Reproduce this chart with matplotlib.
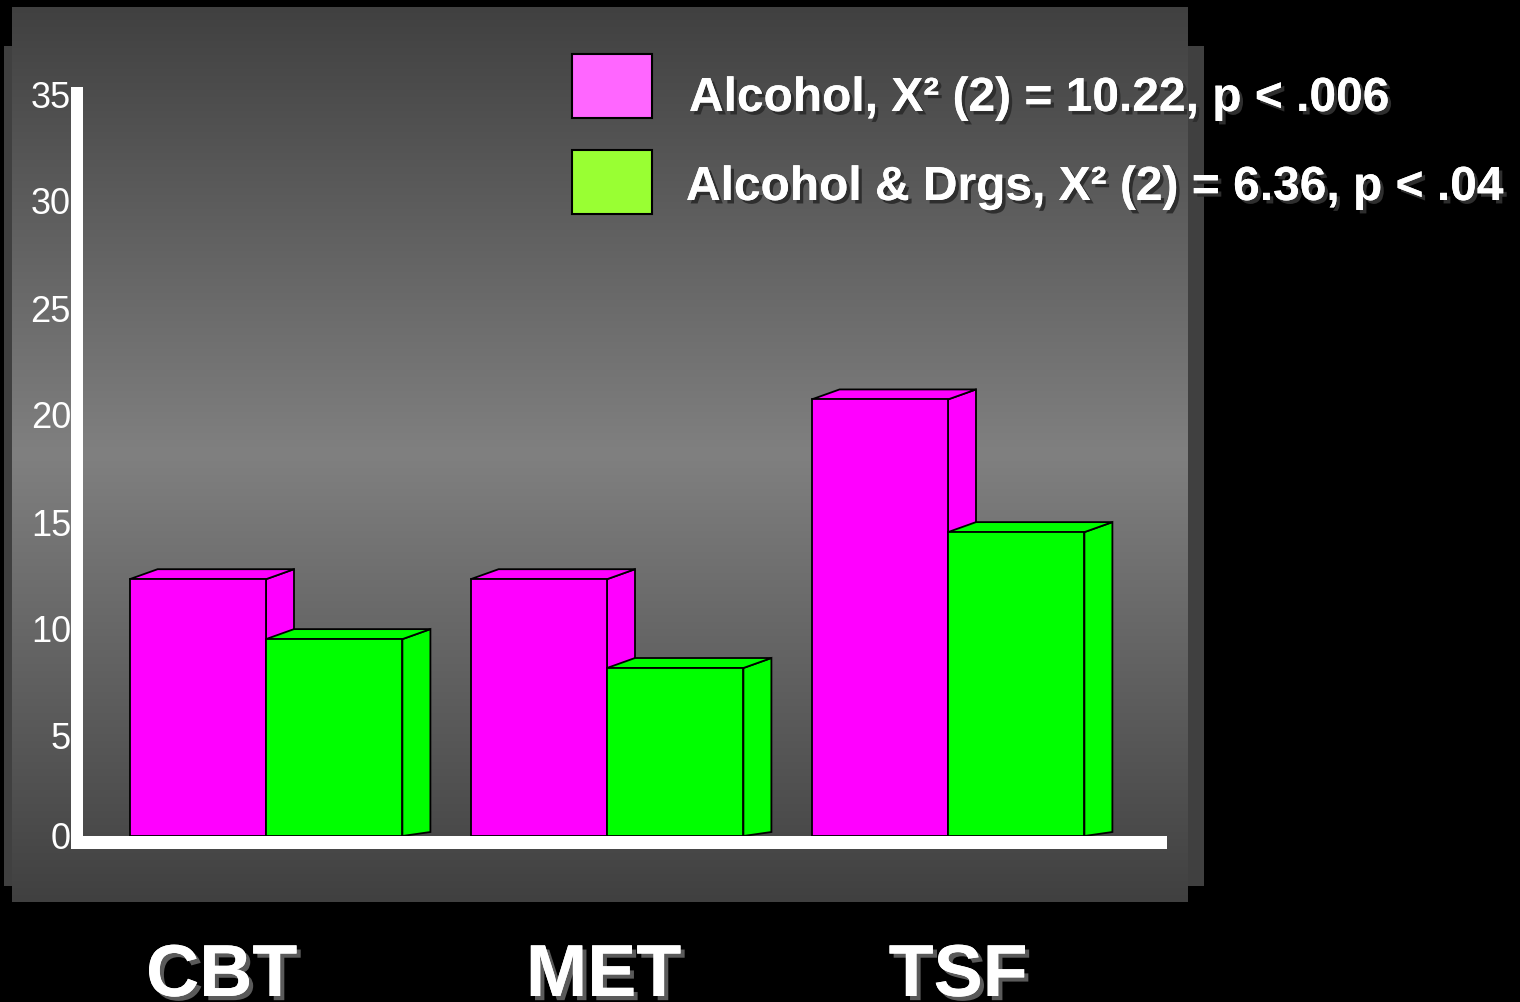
import numpy as np
import matplotlib
matplotlib.use("Agg")
import matplotlib.pyplot as plt
from matplotlib.patches import Polygon, Rectangle
from matplotlib import patheffects as pe
from matplotlib.transforms import offset_copy, blended_transform_factory

# ---- data -------------------------------------------------------------
categories = ["CBT", "MET", "TSF"]
alcohol = [12.0, 12.0, 20.4]
alcohol_drugs = [9.2, 7.85, 14.2]
y_ticks = [0, 5, 10, 15, 20, 25, 30, 35]
legend_labels = ["Alcohol, X² (2) = 10.22, p < .006",
                 "Alcohol & Drgs, X² (2) = 6.36, p < .04"]

# ---- layout / style ---------------------------------------------------
W, H, DPI = 1520, 1003, 100
FONT = "Liberation Sans"
PINK, GREEN = "#FF00FF", "#00FF00"
PINK_KEY, GREEN_KEY = "#FF66FF", "#99FF33"
GROUP_PX = 341.0          # pixels per category unit
BAR_W = 0.4               # bar width in category units
DEPTH_X_PX, DEPTH_TOP_PX, DEPTH_BASE_PX = 28, 10, 4
label_x = [-0.13, 0.99, 2.03]   # category label centres (category units)

plt.rcParams["font.family"] = [FONT, "DejaVu Sans"]

fig = plt.figure(figsize=(W / DPI, H / DPI), dpi=DPI, facecolor="black")


def fx(x):
    return x / W


def fy(y):
    return 1 - y / H


# ---- background panel -------------------------------------------------
fig.add_artist(Rectangle((fx(4), fy(887)), (1204 - 4) / W, (887 - 47) / H,
                         transform=fig.transFigure, facecolor="#404040",
                         edgecolor="none", zorder=0))

bg = fig.add_axes([fx(12), fy(903), (1188 - 12) / W, (903 - 8) / H])
bg.set_zorder(1)
rows = np.arange(8, 903)
centre = 455.0
level = 64 + 64 * (1 - np.abs(rows - centre) / (903 - centre))
grad = np.repeat((level / 255.0)[:, None], 4, axis=1)
bg.imshow(np.dstack([grad, grad, grad]), aspect="auto", interpolation="bilinear",
          extent=[0, 1, 0, 1])
bg.set_axis_off()

# ---- chart axes -------------------------------------------------------
ax_left, ax_right, ax_top, ax_bottom = 83, 1167, 88, 837
ax = fig.add_axes([fx(ax_left), fy(ax_bottom), (ax_right - ax_left) / W,
                   (ax_bottom - ax_top) / H])
ax.set_zorder(2)
ax.set_facecolor("none")
ax.set_axis_off()
first_centre_px = 266
ax.set_xlim((ax_left - first_centre_px) / GROUP_PX,
            (ax_right - first_centre_px) / GROUP_PX)
ax.set_ylim(0, 35)

px_per_unit_y = (ax_bottom - ax_top) / 35.0
dx = DEPTH_X_PX / GROUP_PX
dy_top = DEPTH_TOP_PX / px_per_unit_y
dy_base = DEPTH_BASE_PX / px_per_unit_y


def bar3d(x0, x1, v, color, z):
    kw = dict(facecolor=color, edgecolor="black", linewidth=1.3,
              joinstyle="miter", zorder=z)
    # side face
    ax.add_patch(Polygon([(x1, 0), (x1 + dx, dy_base), (x1 + dx, v + dy_top),
                          (x1, v)], closed=True, **kw))
    # top face
    ax.add_patch(Polygon([(x0, v), (x0 + dx, v + dy_top),
                          (x1 + dx, v + dy_top), (x1, v)], closed=True, **kw))
    # front face
    ax.add_patch(Polygon([(x0, 0), (x0, v), (x1, v), (x1, 0)],
                         closed=True, **kw))


for i, (a, b) in enumerate(zip(alcohol, alcohol_drugs)):
    bar3d(i - BAR_W, i, a, PINK, 3 + 2 * i)
    bar3d(i, i + BAR_W, b, GREEN, 4 + 2 * i)

# value axis labels
for v in y_ticks:
    drop = 3 if v == 0 else 10
    tr = offset_copy(ax.get_yaxis_transform(), fig=fig, x=-12, y=-drop,
                     units="dots")
    ax.text(0, v, str(v), transform=tr, ha="right", va="center",
            fontsize=26, color="white", family=FONT)

# white axis lines
fig.add_artist(Rectangle((fx(71), fy(850)), 12 / W, (850 - 88) / H,
                         transform=fig.transFigure, facecolor="white",
                         edgecolor="none", zorder=5))
fig.add_artist(Rectangle((fx(77), fy(850)), (1167 - 77) / W, 13 / H,
                         transform=fig.transFigure, facecolor="white",
                         edgecolor="none", zorder=5))

# ---- legend -----------------------------------------------------------
shadow_dark = [pe.withSimplePatchShadow(offset=(2.5, -2.5),
                                        shadow_rgbFace="#2e2e2e", alpha=1.0),
               pe.Normal()]
key_tops = [55, 151]
text_baselines = [112, 201]
text_lefts = [689, 686]
for col, top, base, left, lab in zip([PINK_KEY, GREEN_KEY], key_tops,
                                     text_baselines, text_lefts, legend_labels):
    fig.add_artist(Rectangle((fx(572), fy(top + 64)), 80 / W, 64 / H,
                             transform=fig.transFigure, facecolor=col,
                             edgecolor="black", linewidth=1.5, zorder=6))
    fig.text(fx(left), fy(base), lab, ha="left", va="baseline", fontsize=34.5,
             fontweight="bold", color="white", family=FONT, zorder=7,
             path_effects=shadow_dark)

# ---- category labels --------------------------------------------------
shadow_light = [pe.withSimplePatchShadow(offset=(3, -3),
                                         shadow_rgbFace="#5a5a5a", alpha=1.0),
                pe.Normal()]
cat_tr = blended_transform_factory(ax.transData, fig.transFigure)
for xpos, cat in zip(label_x, categories):
    ax.text(xpos, fy(997), cat, transform=cat_tr, ha="center", va="baseline",
            fontsize=53, fontweight="bold", color="white", family=FONT,
            clip_on=False, path_effects=shadow_light)

fig.savefig("out.png", dpi=DPI, facecolor="black")
